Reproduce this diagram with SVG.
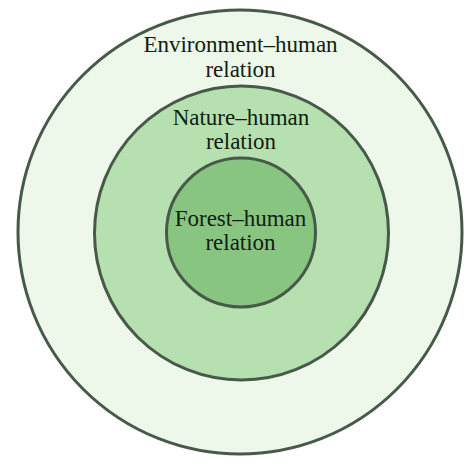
<svg xmlns="http://www.w3.org/2000/svg" width="474" height="466" viewBox="0 0 474 466">
<style>
.ring{stroke:#475a49;stroke-width:3}
.lbl{font-family:"Liberation Serif","Times New Roman",serif;font-size:23px;fill:#102010;text-anchor:middle}
</style>
<rect width="474" height="466" fill="#ffffff"/>
<g id="environment">
<circle class="ring" cx="240" cy="232" r="222" fill="#edf7ea"/>
<text class="lbl" x="240.5" y="52">Environment–human</text>
<text class="lbl" x="240.5" y="77">relation</text>
</g>
<g id="nature">
<circle class="ring" cx="241.5" cy="233" r="147" fill="#b7e0b0"/>
<text class="lbl" x="241" y="125">Nature–human</text>
<text class="lbl" x="241" y="149">relation</text>
</g>
<g id="forest">
<circle class="ring" cx="241" cy="232.5" r="74.5" fill="#88c580"/>
<text class="lbl" x="240.5" y="226">Forest–human</text>
<text class="lbl" x="240.5" y="250">relation</text>
</g>
<g id="connectors"></g>
</svg>
